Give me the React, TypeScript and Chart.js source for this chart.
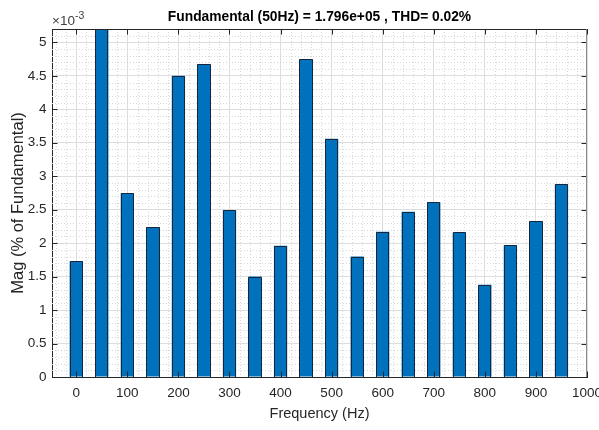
import React, { useEffect, useRef } from "react";
import { Chart, registerables } from "chart.js";

Chart.register(...registerables);

// ---- data ----
const frequencies = [0, 50, 100, 150, 200, 250, 300, 350, 400, 450, 500, 550, 600, 650, 700, 750, 800, 850, 900, 950];
// magnitudes in units of 1e-3 % of fundamental (fundamental itself is 100 % -> far off scale)
const magnitudes = [1.73, 100000, 2.75, 2.24, 4.5, 4.67, 2.49, 1.5, 1.96, 4.75, 3.56, 1.8, 2.17, 2.47, 2.61, 2.16, 1.38, 1.97, 2.33, 2.88];
const xTickValues = [0, 100, 200, 300, 400, 500, 600, 700, 800, 900, 1000];
const yTickValues = [0, 0.5, 1, 1.5, 2, 2.5, 3, 3.5, 4, 4.5, 5];
const titleText = "Fundamental (50Hz) = 1.796e+05 , THD= 0.02%";
const xTitle = "Frequency (Hz)";
const yTitle = "Mag (% of Fundamental)";
const exponentBase = "\u00d710";
const exponentPower = "-3";

const SANS = "'Liberation Sans', Arial, sans-serif";
const AXIS_COLOR = "#262626";

const decorPlugin = {
  id: "matlabDecor",
  beforeDatasetsDraw(chart: any) {
    const { ctx, chartArea } = chart;
    const xs = chart.scales.x;
    const ys = chart.scales.y;
    ctx.save();
    ctx.strokeStyle = "#d8d8d8";
    ctx.lineWidth = 1;
    ctx.setLineDash([1, 2]);
    for (let v = -40; v < 1000; v += 20) {
      if (v % 100 === 0) continue;
      const px = Math.round(xs.getPixelForValue(v)) + 0.5;
      ctx.beginPath();
      ctx.moveTo(px, chartArea.top);
      ctx.lineTo(px, chartArea.bottom);
      ctx.stroke();
    }
    for (let i = 1; i <= 52; i++) {
      if (i % 5 === 0) continue;
      const v = i / 10;
      const py = Math.round(ys.getPixelForValue(v)) + 0.5;
      ctx.beginPath();
      ctx.moveTo(chartArea.left, py);
      ctx.lineTo(chartArea.right, py);
      ctx.stroke();
    }
    ctx.restore();
  },
  afterDatasetsDraw(chart: any) {
    const { ctx, chartArea } = chart;
    const xs = chart.scales.x;
    const ys = chart.scales.y;
    const tl = 5.5;
    ctx.save();
    // bar edges (from the bar elements computed by Chart.js)
    ctx.beginPath();
    ctx.rect(chartArea.left, chartArea.top, chartArea.right - chartArea.left, chartArea.bottom - chartArea.top);
    ctx.clip();
    ctx.strokeStyle = "#17263a";
    ctx.lineWidth = 1;
    chart.getDatasetMeta(0).data.forEach((bar: any) => {
      const l = Math.round(bar.x - bar.width / 2) + 0.5;
      const r = Math.round(bar.x + bar.width / 2) - 0.5;
      const t = Math.round(bar.y) + 0.5;
      const b = Math.round(bar.base);
      ctx.beginPath();
      ctx.moveTo(l, b);
      ctx.lineTo(l, t);
      ctx.lineTo(r, t);
      ctx.lineTo(r, b);
      ctx.stroke();
    });
    ctx.restore();
    ctx.save();
    ctx.strokeStyle = AXIS_COLOR;
    ctx.lineWidth = 1;
    ctx.beginPath();
    xs.ticks.forEach((t: any) => {
      const px = Math.round(xs.getPixelForValue(t.value)) + 0.5;
      ctx.moveTo(px, chartArea.bottom);
      ctx.lineTo(px, chartArea.bottom - tl);
      ctx.moveTo(px, chartArea.top);
      ctx.lineTo(px, chartArea.top + tl);
    });
    ys.ticks.forEach((t: any) => {
      const py = Math.round(ys.getPixelForValue(t.value)) + 0.5;
      ctx.moveTo(chartArea.left, py);
      ctx.lineTo(chartArea.left + tl, py);
      ctx.moveTo(chartArea.right, py);
      ctx.lineTo(chartArea.right - tl, py);
    });
    ctx.stroke();
    // top and right box lines
    ctx.beginPath();
    const top = Math.round(chartArea.top) + 0.5;
    const right = Math.round(chartArea.right) - 0.5;
    ctx.moveTo(chartArea.left, top);
    ctx.lineTo(chartArea.right, top);
    ctx.stroke();
    ctx.strokeStyle = "#8a8a8a";
    ctx.beginPath();
    ctx.moveTo(right, chartArea.top);
    ctx.lineTo(right, chartArea.bottom);
    ctx.stroke();
    // exponent label
    ctx.fillStyle = "#404040";
    ctx.textBaseline = "alphabetic";
    ctx.textAlign = "left";
    ctx.font = `13.5px ${SANS}`;
    const bx = chartArea.left;
    const by = chartArea.top - 4;
    ctx.fillText(exponentBase, bx, by);
    const w = ctx.measureText(exponentBase).width;
    ctx.font = `10.5px ${SANS}`;
    ctx.fillText(exponentPower, bx + w, by - 6.5);
    ctx.restore();
  },
};

export default function App() {
  const ref = useRef<HTMLCanvasElement | null>(null);

  useEffect(() => {
    document.body.style.margin = "0";
    const canvas = ref.current;
    if (!canvas) return;
    const chart = new Chart(canvas, {
      type: "bar",
      data: {
        datasets: [
          {
            data: frequencies.map((f, i) => ({ x: f, y: magnitudes[i] })),
            backgroundColor: "#0072BD",
            borderWidth: 0,
            inflateAmount: 0,
            barPercentage: 0.52,
            categoryPercentage: 1,
          },
        ],
      },
      options: {
        responsive: false,
        animation: false,
        layout: { padding: { left: 0, right: 12, top: 0, bottom: 0 } },
        plugins: {
          legend: { display: false },
          tooltip: { enabled: false },
          title: {
            display: true,
            text: titleText,
            fullSize: false,
            color: "#000",
            font: { family: SANS, size: 13.8, weight: "bold", lineHeight: 1.2 },
            padding: { top: 9, bottom: 3.44 },
          },
        },
        scales: {
          x: {
            type: "linear",
            position: "bottom",
            offset: false,
            min: -47.5,
            max: 1000,
            afterBuildTicks: (s: any) => {
              s.ticks = xTickValues.map((v) => ({ value: v }));
            },
            afterFit: (s: any) => {
              s.height = 53;
              s.paddingLeft = 0;
              s.paddingRight = 0;
            },
            ticks: {
              autoSkip: false,
              maxRotation: 0,
              padding: 8.5,
              color: AXIS_COLOR,
              font: { family: SANS, size: 13.5 },
              callback: (v: any) => String(v),
            },
            grid: { color: "#dddddd", lineWidth: 1, drawTicks: false, offset: false },
            border: { display: true, color: AXIS_COLOR, width: 1 },
            title: {
              display: true,
              text: xTitle,
              color: AXIS_COLOR,
              font: { family: SANS, size: 14.5 },
              padding: { top: 0, bottom: 7 },
            },
          },
          y: {
            type: "linear",
            min: 0,
            max: 5.2,
            afterBuildTicks: (s: any) => {
              s.ticks = yTickValues.map((v) => ({ value: v }));
            },
            afterFit: (s: any) => {
              s.width = 52;
              s.paddingTop = 0;
              s.paddingBottom = 0;
            },
            ticks: {
              autoSkip: false,
              padding: 5.5,
              color: AXIS_COLOR,
              font: { family: SANS, size: 13.5 },
              callback: (v: any) => String(v),
            },
            grid: { color: "#dddddd", lineWidth: 1, drawTicks: false },
            border: { display: true, color: AXIS_COLOR, width: 1 },
            title: {
              display: true,
              text: yTitle,
              color: AXIS_COLOR,
              font: { family: SANS, size: 16.5 },
              padding: { top: 9, bottom: 0 },
            },
          },
        },
      },
      plugins: [decorPlugin],
    } as any);
    return () => chart.destroy();
  }, []);

  return <canvas ref={ref} width={599} height={430} style={{ display: "block" }} />;
}
